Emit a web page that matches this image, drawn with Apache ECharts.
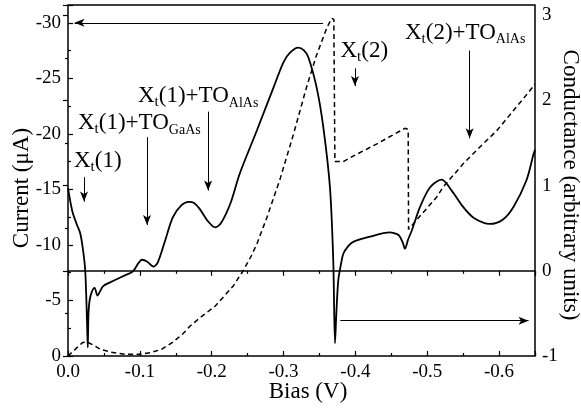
<!DOCTYPE html>
<html><head><meta charset="utf-8">
<script src="https://cdn.jsdelivr.net/npm/echarts@6/dist/echarts.min.js"></script>
<style>html,body{margin:0;padding:0;background:#fff}#c{width:581px;height:413px}</style>
</head><body><div id="c"></div>
<script>
// ---- data (bias in V, current in uA, conductance in arbitrary units) ----
const biasCurrent = [0, -0.010, -0.020, -0.025, -0.035, -0.045, -0.060, -0.080, -0.100, -0.115, -0.130, -0.145, -0.160, -0.170, -0.183, -0.193, -0.205, -0.216, -0.230, -0.244, -0.255, -0.263, -0.277, -0.286, -0.295, -0.314, -0.332, -0.346, -0.360, -0.367, -0.370, -0.3715, -0.383, -0.400, -0.430, -0.455, -0.469, -0.4735, -0.474, -0.490, -0.513, -0.522, -0.550, -0.573, -0.597, -0.620, -0.643, -0.650];
const currentValues = [0, -0.6, -1.2, -1.3, -1.0, -0.6, -0.35, -0.15, -0.15, -0.3, -0.6, -1.2, -2.0, -2.7, -3.4, -3.9, -4.5, -5.3, -6.3, -7.7, -9.0, -10.1, -12.5, -14.2, -15.9, -20.0, -24.2, -27.1, -29.5, -30.4, -30.3, -17.5, -17.5, -18.1, -19.1, -20.0, -20.5, -20.4, -11.4, -12.6, -14.3, -15.2, -17.3, -18.8, -20.3, -22.1, -23.9, -24.5];
const biasConductance = [0, -0.006, -0.012, -0.017, -0.021, -0.024, -0.0265, -0.0275, -0.0285, -0.030, -0.033, -0.037, -0.041, -0.044, -0.049, -0.060, -0.070, -0.080, -0.090, -0.098, -0.103, -0.110, -0.119, -0.125, -0.135, -0.146, -0.158, -0.168, -0.175, -0.183, -0.195, -0.205, -0.213, -0.226, -0.239, -0.263, -0.286, -0.300, -0.309, -0.3205, -0.328, -0.3344, -0.3461, -0.3553, -0.3646, -0.3692, -0.3716, -0.3735, -0.3762, -0.380, -0.3832, -0.390, -0.397, -0.420, -0.448, -0.458, -0.462, -0.466, -0.469, -0.4735, -0.4784, -0.490, -0.504, -0.520, -0.535, -0.550, -0.565, -0.587, -0.605, -0.620, -0.638, -0.648, -0.650];
const conductanceValues = [0.97, 0.70, 0.55, 0.44, 0.24, 0.00, -0.60, -0.90, -0.50, -0.35, -0.25, -0.20, -0.29, -0.25, -0.18, -0.13, -0.09, -0.05, -0.01, 0.09, 0.13, 0.11, 0.05, 0.10, 0.35, 0.63, 0.77, 0.81, 0.80, 0.73, 0.58, 0.51, 0.56, 0.79, 1.14, 1.65, 2.15, 2.45, 2.56, 2.62, 2.59, 2.51, 2.15, 1.69, 0.98, 0.12, -0.85, -0.50, -0.11, 0.08, 0.20, 0.29, 0.34, 0.40, 0.45, 0.43, 0.40, 0.33, 0.26, 0.37, 0.47, 0.75, 0.98, 1.07, 0.93, 0.75, 0.62, 0.55, 0.60, 0.75, 1.06, 1.37, 1.42];

// axis ranges / ticks
const biasTicks = [0, -0.1, -0.2, -0.3, -0.4, -0.5, -0.6];
const currentTicks = [0, -5, -10, -15, -20, -25, -30];
const conductanceTicks = [-1, 0, 1, 2, 3];

// annotation labels: [main, sub, main, sub]
const annotationLabels = [
  ['X', 't', '(1)', ''],
  ['X', 't', '(1)+TO', 'GaAs'],
  ['X', 't', '(1)+TO', 'AlAs'],
  ['X', 't', '(2)', ''],
  ['X', 't', '(2)+TO', 'AlAs']
];
// annotation arrows in (bias, current) coordinates: start -> end
const arrowBiasStart = [-0.355, -0.0223, -0.110, -0.195, -0.3994, -0.559];
const arrowCurrentStart = [-30, -16.1, -19.7, -22.0, -25.9, -27.5];
const arrowBiasEnd = [-0.009, -0.0223, -0.110, -0.195, -0.3994, -0.559];
const arrowCurrentEnd = [-30, -13.9, -11.8, -14.9, -24.3, -19.6];
// arrow in (bias, conductance) coordinates
const condArrowBias = [-0.379, -0.641];
const condArrowValue = [-0.586, -0.586];

// ---- layout ----
const FONT = '"Liberation Serif", "Times New Roman", "DejaVu Serif", serif';
const labelPos = [[74, 147], [78, 109], [138, 82], [340.5, 37], [405, 18.5]];

function fmtX(v){ const r = Math.round(v*10)/10; if (Math.abs(v-r) > 1e-6) return ''; const t = biasTicks.find(b => Math.abs(-b - r) < 1e-6); return t === undefined ? '' : (t === 0 ? '0.0' : t.toFixed(1)); }
function fmtI(v){ const t = currentTicks.find(c => Math.abs(-c - v) < 1e-6); return t === undefined ? '' : String(t); }
function fmtG(v){ const t = conductanceTicks.find(c => Math.abs(c - v) < 1e-6); return t === undefined ? '' : String(t); }

const tickStyle = {inside:true, length:5, lineStyle:{color:'#000', width:1.2}};
const minorStyle = {show:true, splitNumber:2, length:3, lineStyle:{color:'#000', width:1.2}};
const labelStyle = {color:'#000', fontFamily:FONT, fontSize:19};

const currentData = biasCurrent.map((b,i) => [-b, -currentValues[i]]);
const condData = biasConductance.map((b,i) => [-b, conductanceValues[i]]);

const arrowLines = arrowBiasStart.map((b,i) => [
  {coord:[-b, -arrowCurrentStart[i]]},
  {coord:[-arrowBiasEnd[i], -arrowCurrentEnd[i]]}
]);

const rich = {
  m:{fontFamily:FONT, fontSize:23, lineHeight:28, verticalAlign:'middle', fill:'#000'},
  t:{fontFamily:FONT, fontSize:15, lineHeight:15, verticalAlign:'bottom', fill:'#000'},
  s:{fontFamily:FONT, fontSize:14, lineHeight:14, verticalAlign:'bottom', fill:'#000'}
};
const graphics = annotationLabels.map((p,i) => ({
  type:'text', x:labelPos[i][0], y:labelPos[i][1], silent:true,
  style:{text:'{m|'+p[0]+'}{t|'+p[1]+'}{m|'+p[2]+'}' + (p[3] ? '{s|'+p[3]+'}' : ''), rich:rich, verticalAlign:'top', align:'left', fill:'#000'}
}));
const titleFont = '23px ' + FONT;
graphics.push(
  {type:'text', x:22, y:188, rotation:Math.PI/2, silent:true, style:{text:'Current (μA)', font:titleFont, fill:'#000', align:'center', verticalAlign:'middle'}},
  {type:'text', x:570, y:185, rotation:-Math.PI/2, silent:true, style:{text:'Conductance (arbitrary units)', font:titleFont, fill:'#000', align:'center', verticalAlign:'middle'}},
  {type:'text', x:308, y:392, silent:true, style:{text:'Bias (V)', font:titleFont, fill:'#000', align:'center', verticalAlign:'middle'}}
);

const chart = echarts.init(document.getElementById('c'), null, {renderer:'canvas'});
chart.setOption({
  animation:false,
  backgroundColor:'#fff',
  textStyle:{fontFamily:FONT},
  grid:{left:68, right:46, top:5, bottom:57, show:true, borderColor:'#000', borderWidth:1.5, backgroundColor:'transparent'},
  xAxis:[
    {type:'value', min:0, max:0.65, interval:0.1, position:'bottom', axisLine:{show:false}, axisTick:tickStyle, minorTick:minorStyle, splitLine:{show:false}, minorSplitLine:{show:false}, axisLabel:Object.assign({margin:7, formatter:fmtX, showMaxLabel:false}, labelStyle)},
    {type:'value', min:0, max:0.65, interval:0.1, position:'top', axisLine:{show:false}, axisTick:tickStyle, minorTick:minorStyle, splitLine:{show:false}, axisLabel:{show:false}}
  ],
  yAxis:[
    {type:'value', min:0, max:31.6, interval:5, position:'left', axisLine:{show:false}, axisTick:tickStyle, minorTick:minorStyle, splitLine:{show:false}, axisLabel:Object.assign({margin:7, formatter:fmtI, showMaxLabel:false}, labelStyle)},
    {type:'value', min:-1, max:3.12, interval:1, position:'right', axisLine:{show:false}, axisTick:tickStyle, minorTick:minorStyle, splitLine:{show:false}, axisLabel:Object.assign({margin:7, formatter:fmtG, showMaxLabel:false}, labelStyle)}
  ],
  series:[
    {type:'line', name:'Current', xAxisIndex:0, yAxisIndex:0, data:currentData, showSymbol:false, symbol:'none',
     lineStyle:{color:'#000', width:1.5, type:[5,3.5]},
     markLine:{silent:true, animation:false, symbol:['none','arrow'], symbolSize:[6,10], label:{show:false},
       lineStyle:{color:'#000', width:1, type:'solid'}, emphasis:{disabled:true}, data:arrowLines}},
    {type:'line', name:'Conductance', xAxisIndex:0, yAxisIndex:1, data:condData, showSymbol:false, symbol:'none', smooth:0.3,
     lineStyle:{color:'#000', width:1.8},
     markLine:{silent:true, animation:false, symbol:['none','none'], label:{show:false},
       lineStyle:{color:'#000', width:1.6, type:'solid'}, emphasis:{disabled:true}, data:[{yAxis:0}]}},
    {type:'line', name:'condArrow', xAxisIndex:0, yAxisIndex:1, data:[], showSymbol:false,
     markLine:{silent:true, animation:false, symbol:['none','arrow'], symbolSize:[6,10], label:{show:false},
       lineStyle:{color:'#000', width:1, type:'solid'}, emphasis:{disabled:true},
       data:[[{coord:[-condArrowBias[0], condArrowValue[0]]}, {coord:[-condArrowBias[1], condArrowValue[1]]}]]}}
  ],
  graphic:graphics
});
</script>
</body></html>
